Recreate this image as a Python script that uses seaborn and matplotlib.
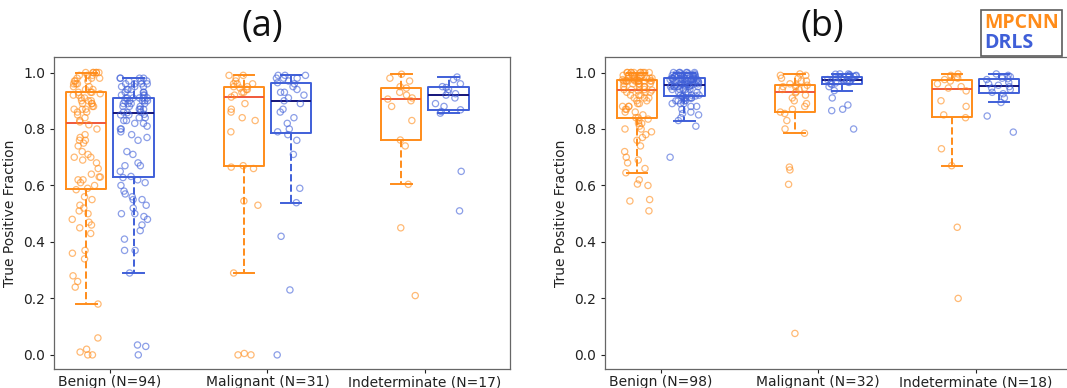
import numpy as np
import pandas as pd
import matplotlib
matplotlib.use("Agg")
import matplotlib.pyplot as plt
import seaborn as sns
from matplotlib.lines import Line2D

# colours
ORANGE = '#FF8C1A'
BLUE = '#3F5FD8'
MEDIAN_COLORS = ['#F0583A', '#14147A']
MODELS = ['MPCNN', 'DRLS']
GROUPS = ['Benign', 'Malignant', 'Indeterminate']

LABELS_A = ['Benign (N=94)', 'Malignant (N=31)', 'Indeterminate (N=17)']
LABELS_B = ['Benign (N=98)', 'Malignant (N=32)', 'Indeterminate (N=18)']

# ---- panel (a): true positive fraction per case ----
a_benign_mpcnn = [
    0.0, 0.0, 0.01, 0.02, 0.06, 0.18, 0.24, 0.26, 0.28, 0.34, 0.36, 0.37, 0.43, 0.45, 0.46, 0.47,
    0.48, 0.50, 0.51, 0.52, 0.53, 0.55, 0.56,
    0.585, 0.59, 0.60, 0.61, 0.62, 0.62, 0.63, 0.63, 0.64, 0.66, 0.68, 0.69, 0.70, 0.70, 0.71, 0.72,
    0.74, 0.75, 0.76, 0.76, 0.77, 0.78, 0.80, 0.815,
    0.825, 0.83, 0.84, 0.85, 0.86, 0.86, 0.87, 0.87, 0.87, 0.88, 0.88, 0.89, 0.89, 0.89, 0.90, 0.90,
    0.90, 0.91, 0.91, 0.92, 0.92, 0.925, 0.93,
    0.93, 0.93, 0.94, 0.94, 0.95, 0.95, 0.96, 0.96, 0.96, 0.97, 0.97, 0.97, 0.98, 0.98, 0.98, 0.99,
    0.99, 0.99, 1.0, 1.0, 1.0, 1.0, 1.0, 1.0,
]
a_benign_drls = [
    0.0, 0.03, 0.035, 0.29, 0.37, 0.37, 0.41, 0.44, 0.46, 0.48, 0.49, 0.50, 0.50, 0.52, 0.53, 0.55,
    0.55, 0.56, 0.57, 0.58, 0.60, 0.61, 0.62,
    0.628, 0.632, 0.65, 0.67, 0.67, 0.68, 0.71, 0.72, 0.76, 0.77, 0.78, 0.79, 0.80, 0.80, 0.81, 0.82,
    0.82, 0.83, 0.83, 0.84, 0.84, 0.85, 0.85, 0.852,
    0.858, 0.86, 0.86, 0.87, 0.87, 0.87, 0.88, 0.88, 0.88, 0.89, 0.89, 0.89, 0.89, 0.90, 0.90, 0.90,
    0.90, 0.90, 0.91, 0.91, 0.91, 0.91, 0.91,
    0.91, 0.92, 0.92, 0.92, 0.93, 0.93, 0.93, 0.94, 0.94, 0.94, 0.95, 0.95, 0.95, 0.96, 0.96, 0.96,
    0.96, 0.97, 0.97, 0.97, 0.98, 0.98, 0.98, 0.98,
]
a_malignant_mpcnn = [
    0.0, 0.0, 0.005, 0.29, 0.53, 0.545, 0.66, 0.665,
    0.67, 0.79, 0.83, 0.84, 0.86, 0.87, 0.89, 0.913,
    0.92, 0.93, 0.93, 0.94, 0.94, 0.945, 0.95,
    0.95, 0.96, 0.96, 0.96, 0.97, 0.98, 0.99, 0.99,
]
a_malignant_drls = [
    0.0, 0.23, 0.42, 0.539, 0.59, 0.71, 0.76, 0.78,
    0.79, 0.80, 0.82, 0.84, 0.86, 0.87, 0.89, 0.90,
    0.91, 0.92, 0.93, 0.93, 0.94, 0.95, 0.96,
    0.964, 0.97, 0.98, 0.98, 0.98, 0.99, 0.99, 0.99,
]
a_indet_mpcnn = [0.21, 0.45, 0.604, 0.74, 0.761, 0.83, 0.88, 0.90, 0.906,
                 0.91, 0.92, 0.93, 0.945, 0.95, 0.97, 0.98, 0.994]
a_indet_drls = [0.51, 0.65, 0.856, 0.862, 0.868, 0.88, 0.89, 0.91, 0.92,
                0.925, 0.93, 0.94, 0.947, 0.95, 0.96, 0.975, 0.984]

# ---- panel (b) ----
b_benign_mpcnn = [
    0.51, 0.545, 0.55, 0.60, 0.605, 0.62, 0.645, 0.66, 0.68, 0.69, 0.70, 0.72, 0.74, 0.76, 0.77, 0.78,
    0.79, 0.80, 0.80, 0.81, 0.82, 0.82, 0.83, 0.835, 0.84,
    0.84, 0.85, 0.86, 0.86, 0.87, 0.87, 0.88, 0.88, 0.88, 0.89, 0.89, 0.90, 0.90, 0.91, 0.91, 0.91,
    0.92, 0.92, 0.92, 0.93, 0.93, 0.93, 0.935, 0.938,
    0.94, 0.94, 0.94, 0.95, 0.95, 0.95, 0.95, 0.96, 0.96, 0.96, 0.96, 0.96, 0.97, 0.97, 0.97, 0.97,
    0.97, 0.97, 0.97, 0.97, 0.97, 0.97, 0.97, 0.97,
    0.975, 0.975, 0.98, 0.98, 0.98, 0.98, 0.98, 0.98, 0.99, 0.99, 0.99, 0.99, 0.99, 0.99, 0.99, 1.0,
    1.0, 1.0, 1.0, 1.0, 1.0, 1.0, 1.0, 1.0, 1.0,
]
b_benign_drls = [
    0.70, 0.81, 0.83, 0.84, 0.85, 0.855, 0.86, 0.87, 0.88, 0.88, 0.89, 0.89, 0.89, 0.90, 0.90, 0.90,
    0.90, 0.91, 0.91, 0.91, 0.91, 0.91, 0.915, 0.915, 0.917,
    0.92, 0.92, 0.92, 0.93, 0.93, 0.93, 0.93, 0.94, 0.94, 0.94, 0.94, 0.94, 0.95, 0.95, 0.95, 0.95,
    0.95, 0.95, 0.955, 0.955, 0.955, 0.955, 0.955, 0.955,
    0.957, 0.96, 0.96, 0.96, 0.96, 0.96, 0.965, 0.965, 0.965, 0.97, 0.97, 0.97, 0.97, 0.97, 0.97, 0.975,
    0.975, 0.975, 0.975, 0.975, 0.975, 0.975, 0.977, 0.977,
    0.98, 0.98, 0.98, 0.98, 0.98, 0.985, 0.985, 0.985, 0.985, 0.99, 0.99, 0.99, 0.99, 0.99, 0.99, 0.995,
    0.995, 0.995, 0.995, 1.0, 1.0, 1.0, 1.0, 1.0, 1.0,
]
b_malignant_mpcnn = [
    0.076, 0.604, 0.655, 0.665, 0.785, 0.80, 0.83, 0.855,
    0.86, 0.87, 0.88, 0.89, 0.90, 0.91, 0.92, 0.928,
    0.932, 0.94, 0.94, 0.945, 0.95, 0.95, 0.955, 0.955,
    0.96, 0.97, 0.97, 0.98, 0.98, 0.99, 0.99, 0.995,
]
b_malignant_drls = [
    0.80, 0.865, 0.87, 0.885, 0.91, 0.936, 0.95, 0.958,
    0.961, 0.963, 0.965, 0.967, 0.968, 0.969, 0.97, 0.971,
    0.973, 0.975, 0.977, 0.978, 0.98, 0.982, 0.984, 0.985,
    0.986, 0.988, 0.99, 0.99, 0.992, 0.994, 0.995, 0.995,
]
b_indet_mpcnn = [0.20, 0.452, 0.67, 0.73, 0.84, 0.85, 0.88, 0.90, 0.935,
                 0.945, 0.95, 0.96, 0.97, 0.975, 0.98, 0.985, 0.99, 0.995]
b_indet_drls = [0.789, 0.846, 0.894, 0.91, 0.925, 0.93, 0.94, 0.945, 0.95,
                0.955, 0.96, 0.965, 0.975, 0.978, 0.98, 0.985, 0.99, 0.995]


def build_frame(series):
    rows = []
    for (group, model), vals in series.items():
        for v in vals:
            rows.append({'group': group, 'model': model, 'tpf': v})
    return pd.DataFrame(rows)


def draw_panel(ax, df, labels, xmax):
    palette = dict(zip(MODELS, [ORANGE, BLUE]))
    sns.boxplot(data=df, x='group', y='tpf', hue='model',
                order=GROUPS, hue_order=MODELS, palette=palette, width=0.6, gap=0.15,
                fill=False, whis=1.5, showfliers=False, linewidth=1.4,
                whiskerprops={'linestyle': '--'}, legend=False, ax=ax)
    # per-model median colour, narrower caps
    boxes = [c for c in ax.containers if hasattr(c, 'medians')]
    for cont, med in zip(boxes, MEDIAN_COLORS):
        for line in cont.medians:
            line.set_color(med)
        for cap in cont.caps:
            x = np.asarray(cap.get_xdata(), dtype=float)
            mid = x.mean()
            cap.set_xdata([mid - 0.065, mid + 0.065])

    n0 = len(ax.collections)
    sns.stripplot(data=df, x='group', y='tpf', hue='model', order=GROUPS, hue_order=MODELS,
                  palette=palette, dodge=True, jitter=0.25, size=4.5, alpha=0.6,
                  legend=False, ax=ax, zorder=3)
    # hollow markers, pulled in to sit on the boxes
    for coll in ax.collections[n0:]:
        off = np.asarray(coll.get_offsets(), dtype=float).copy()
        if len(off) == 0:
            continue
        c = np.round(off[:, 0])
        off[:, 0] = c + (off[:, 0] - c) * 0.75
        coll.set_offsets(off)
        fc = coll.get_facecolors()
        coll.set_edgecolors(fc)
        coll.set_facecolors('none')
        coll.set_linewidths(0.9)

    ax.set_xlim(-0.355, xmax)
    ax.set_ylim(-0.05, 1.055)
    ax.set_yticks([0.0, 0.2, 0.4, 0.6, 0.8, 1.0])
    ax.set_yticklabels(['0.0', '0.2', '0.4', '0.6', '0.8', '1.0'])
    ax.set_xticks(range(len(labels)))
    ax.set_xticklabels(labels)
    ax.set_xlabel('')
    ax.set_ylabel('True Positive Fraction', fontsize=10, color='#222222')
    ax.tick_params(labelsize=10, colors='#222222', length=3, width=0.8)
    ax.tick_params(axis='x', pad=1.5)
    for sp in ax.spines.values():
        sp.set_color('#666666')
        sp.set_linewidth(0.9)


np.random.seed(3)
df_a = build_frame({
    ('Benign', 'MPCNN'): a_benign_mpcnn, ('Benign', 'DRLS'): a_benign_drls,
    ('Malignant', 'MPCNN'): a_malignant_mpcnn, ('Malignant', 'DRLS'): a_malignant_drls,
    ('Indeterminate', 'MPCNN'): a_indet_mpcnn, ('Indeterminate', 'DRLS'): a_indet_drls,
})
df_b = build_frame({
    ('Benign', 'MPCNN'): b_benign_mpcnn, ('Benign', 'DRLS'): b_benign_drls,
    ('Malignant', 'MPCNN'): b_malignant_mpcnn, ('Malignant', 'DRLS'): b_malignant_drls,
    ('Indeterminate', 'MPCNN'): b_indet_mpcnn, ('Indeterminate', 'DRLS'): b_indet_drls,
})

fig = plt.figure(figsize=(10.67, 3.88), dpi=100)
W, H = 1067.0, 388.0
ax_a = fig.add_axes([54 / W, 1 - 369 / H, (510 - 54) / W, (369 - 57) / H])
ax_b = fig.add_axes([605 / W, 1 - 369 / H, (1070 - 605) / W, (369 - 57) / H])

draw_panel(ax_a, df_a, LABELS_A, 2.54)
draw_panel(ax_b, df_b, LABELS_B, 2.60)

fig.text(262 / W, 1 - 27 / H, '(a)', ha='center', va='center', fontsize=26,
         family='Open Sans', color='#111111')
fig.text(822 / W, 1 - 27 / H, '(b)', ha='center', va='center', fontsize=26,
         family='Open Sans', color='#111111')

handles = [Line2D([], [], linestyle='none') for _ in MODELS]
leg = fig.legend(handles, MODELS, loc='upper left', bbox_to_anchor=(981 / W, 1 - 10 / H),
                 bbox_transform=fig.transFigure, borderaxespad=0.0,
                 handlelength=0, handletextpad=0,
                 labelcolor=[ORANGE, BLUE], frameon=True, fancybox=False,
                 edgecolor='#333333', labelspacing=0.0, borderpad=0.15,
                 prop={'family': 'Open Sans', 'weight': 'bold', 'size': 14})
leg.get_frame().set_linewidth(1.2)

fig.savefig('out.png', dpi=100)
